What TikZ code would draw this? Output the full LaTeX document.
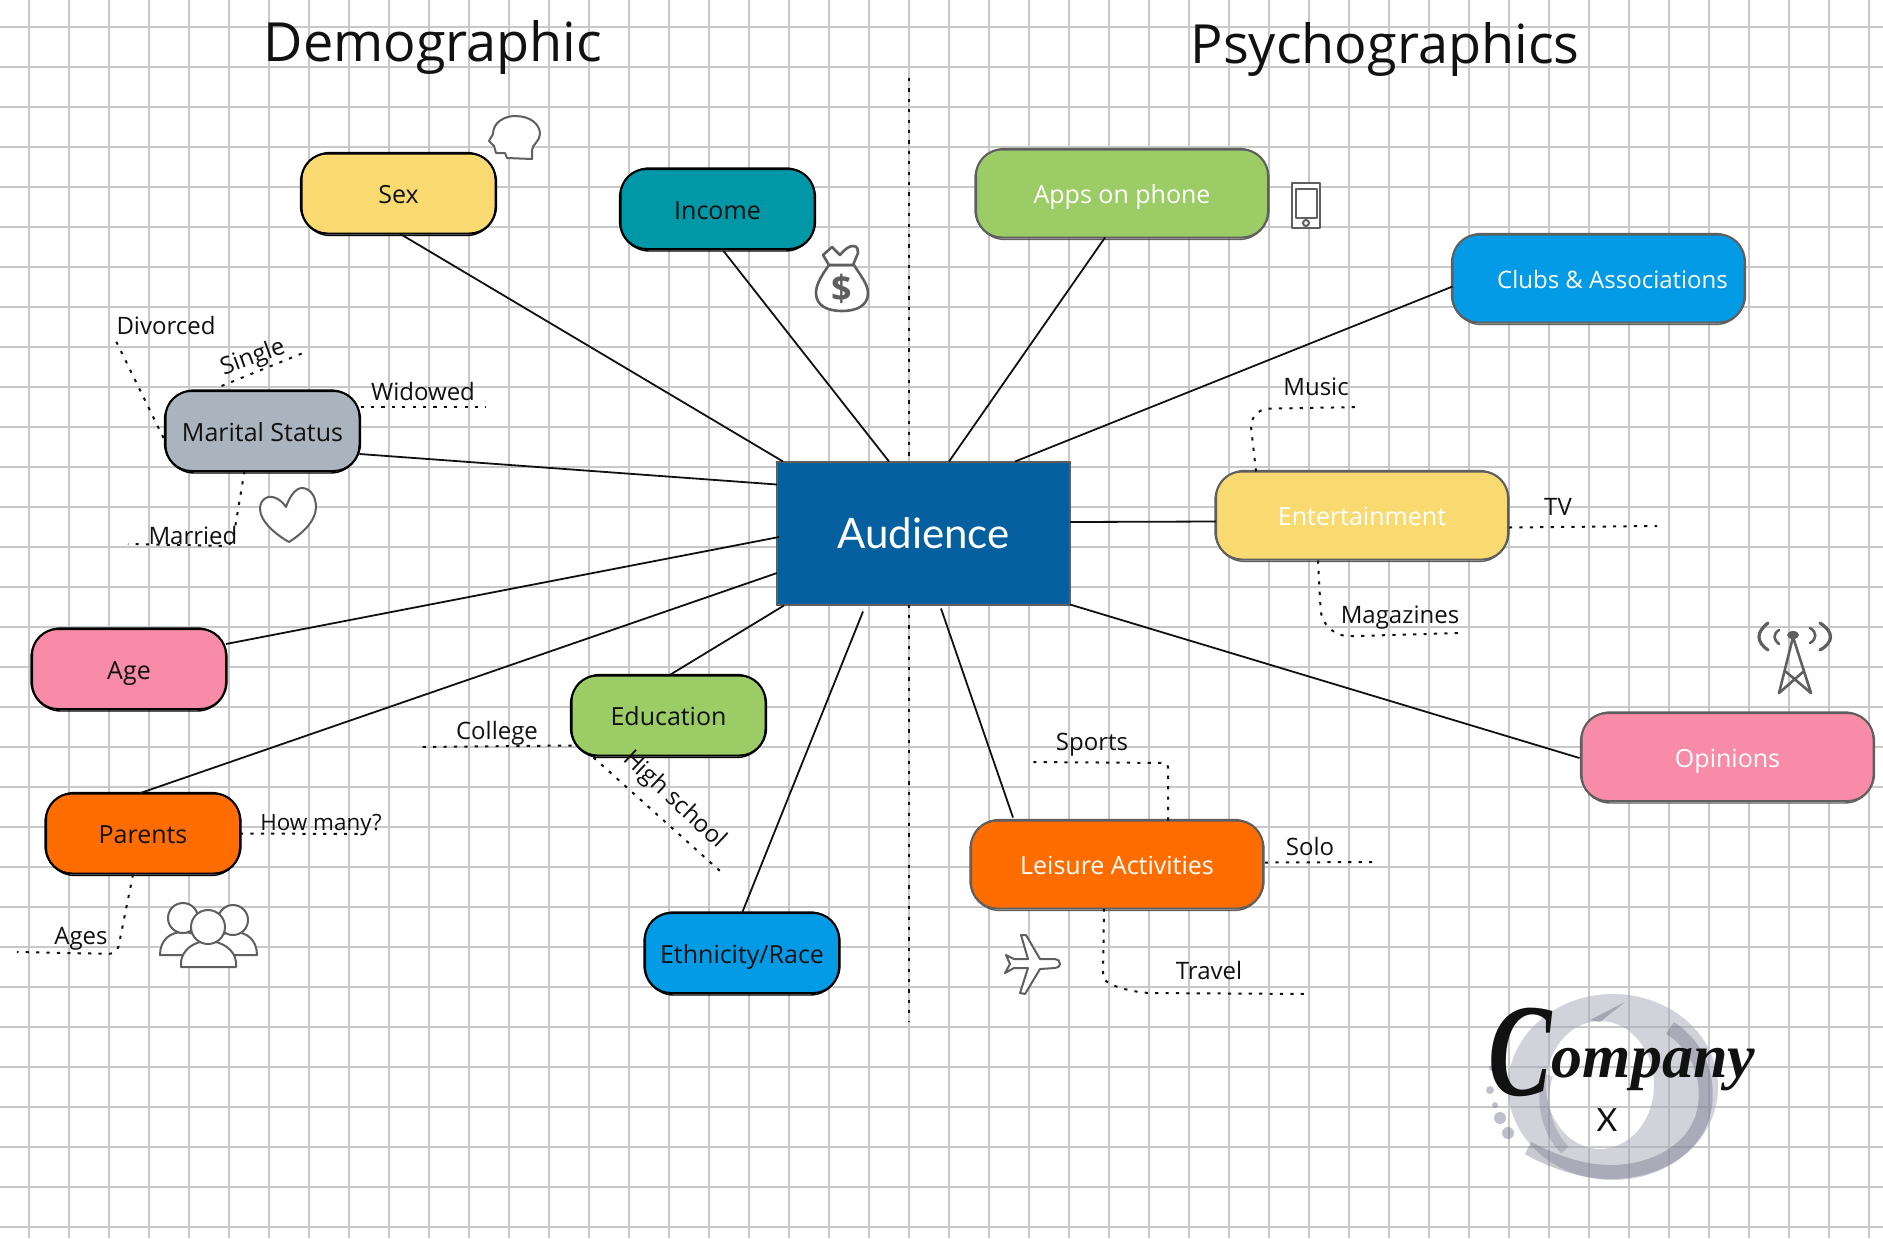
\documentclass[tikz,border=0pt]{standalone}
\usepackage{fontspec}
\usetikzlibrary{calc}
\setmainfont{Open Sans}
\newfontfamily\latofont{Lato}
\newfontfamily\logofont{Liberation Serif}
\definecolor{gridc}{HTML}{C8C8C8}
\definecolor{ink}{HTML}{111111}
\definecolor{sk}{HTML}{5F5F5F}
\definecolor{yel}{HTML}{F8DA70}
\definecolor{tealb}{HTML}{0097A7}
\definecolor{grn}{HTML}{9CCC65}
\definecolor{blu}{HTML}{039BE5}
\definecolor{gry}{HTML}{AAB4BE}
\definecolor{pnk}{HTML}{F88BA8}
\definecolor{org}{HTML}{FF6D00}
\definecolor{audc}{HTML}{06609F}
\definecolor{ringa}{HTML}{A6A6B6}
\definecolor{ringb}{HTML}{62627C}
\newcommand{\lf}[1]{\fontsize{#1}{#1}\selectfont}
% name, x, y, fill, line, text, width, height, label
\newcommand{\skbox}[9]{%
  \node[skshape,fill=#4,draw=#5,text=#6,minimum width=#7,minimum height=#8] (#1) at (#2,#3) {\raisebox{-5pt}[0pt][0pt]{#9}};
  \draw[#5,line width=.7pt,rounded corners=15pt] ($(#1.south west)+(-1,2)$) rectangle ($(#1.north east)+(1,-1)$);
}
\tikzset{
  skshape/.style={rounded corners=13pt,line width=1pt,inner sep=0pt,outer sep=0pt,font=\lf{12.5}},
  lab/.style={inner sep=0pt,outer sep=0pt,text=ink,font=\lf{12}},
  conn/.style={line width=.9pt,ink},
  dots/.style={line width=1pt,ink,dash pattern=on 1.6pt off 3.6pt},
  icon/.style={sk,line width=1pt,fill=white,line join=round,line cap=round},
  iconl/.style={sk,line width=1pt,line join=round,line cap=round},
}
\begin{document}
\begin{tikzpicture}[x=.5pt,y=-.5pt]
\useasboundingbox (0,0) rectangle (1883,1238);
\fill[white] (0,0) rectangle (1883,1238);
% grid
\foreach \gx in {29,69,...,1869} \draw[gridc,line width=1.25pt] (\gx,0) -- (\gx,1238);
\foreach \gy in {27,67,...,1227} \draw[gridc,line width=1.25pt] (0,\gy) -- (1883,\gy);

% logo ring
\fill[ringa,opacity=.5,even odd rule] (1613,1087) ellipse [x radius=105,y radius=93] (1600,1085) ellipse [x radius=54,y radius=64];
\draw[ringb,opacity=.35,line width=7pt] (1670,1028) .. controls (1705,1050) and (1710,1090) .. (1703,1115) .. controls (1693,1150) and (1655,1172) .. (1610,1172) .. controls (1580,1172) and (1550,1160) .. (1528,1148);
\draw[ringb,opacity=.25,line width=5pt] (1548,1075) .. controls (1540,1100) and (1545,1130) .. (1565,1150);
\fill[ringb,opacity=.4] (1590,1020) -- (1625,1002) -- (1600,1022) -- cycle;
\fill[ringb,opacity=.4] (1500,1118) circle (6) (1508,1133) circle (6) (1490,1090) circle (4) (1495,1105) circle (3) (1492,1068) circle (3);
\node[anchor=base west,inner sep=0pt,text=ink] (logo) at (1488,1095) {\logofont\bfseries\itshape\lf{66}\scalebox{.72}[1]{C}\raisebox{9pt}{\lf{31}ompany}};
\node[inner sep=0pt,text=ink,font=\latofont\lf{16}] (logox) at (1607,1120) {X};

% titles
\node[lab,font=\lf{27}] (t1) at (433,47) {Demographic};
\node[lab,font=\lf{27}] (t2) at (1385,49) {Psychographics};

% boxes
\node[rectangle,fill=audc,draw=sk,line width=1pt,minimum width=146.5pt,minimum height=71.5pt,inner sep=0pt,outer sep=0pt,text=white,font=\latofont\lf{21}] (aud) at (923.5,533) {Audience};
\skbox{sex}{398.5}{193.5}{yel}{black}{ink}{97pt}{40pt}{Sex}
\skbox{inc}{717.5}{209}{tealb}{black}{ink}{97pt}{40pt}{Income}
\skbox{mar}{262.5}{431}{gry}{black}{ink}{97pt}{40pt}{Marital Status}
\skbox{age}{129}{669}{pnk}{black}{ink}{97pt}{40pt}{Age}
\skbox{edu}{668.5}{715.5}{grn}{black}{ink}{97pt}{40pt}{Education}
\skbox{par}{143}{833.5}{org}{black}{ink}{97pt}{40pt}{Parents}
\skbox{eth}{742}{953}{blu}{black}{ink}{97pt}{40pt}{Ethnicity/Race}
\skbox{app}{1122}{193.5}{grn}{sk}{white}{146pt}{44pt}{Apps on phone}
\skbox{clu}{1598.5}{278.5}{blu}{sk}{white}{146pt}{44pt}{\hspace*{14pt}{\lf{12}Clubs \& Associations}}
\skbox{ent}{1362}{515.5}{yel}{sk}{white}{146pt}{44pt}{Entertainment}
\skbox{opi}{1727.5}{757}{pnk}{sk}{white}{146pt}{44pt}{Opinions}
\skbox{lei}{1117}{864.5}{org}{sk}{white}{146pt}{44pt}{Leisure Activities}

% solid connectors
\draw[conn] ($(sex.south)+(1,0)$) -- ($(aud.north west)+(6,0)$);
\draw[conn] ($(inc.south)+(6,2)$) -- ($(aud.north west)+(112,0)$);
\draw[conn] ($(app.south)+(-17,0)$) -- ($(aud.north west)+(172,0)$);
\draw[conn] ($(clu.west)+(0,8)$) -- ($(aud.north west)+(238,0)$);
\draw[conn] ($(mar.east)+(0,23)$) -- ($(aud.north west)+(0,23)$);
\draw[conn] ($(aud.east)+(0,-11)$) -- ($(ent.west)+(0,6)$);
\draw[conn] (aud.south east) -- ($(opi.west)+(-2,1)$);
\draw[conn] ($(lei.north west)+(42,-3)$) -- ($(aud.south west)+(164,4)$);
\draw[conn] (eth.north) -- ($(aud.south west)+(86,7)$);
\draw[conn] ($(edu.north)+(2,-1)$) -- ($(aud.south west)+(7,1)$);
\draw[conn] ($(age.east)+(0,-25)$) -- ($(aud.west)+(2,4)$);
\draw[conn] ($(par.north)+(-4,0)$) -- ($(aud.west)+(0,40)$);

% centre dotted line
\coordinate (vt) at (909,78);
\coordinate (vb) at (909,1021);
\draw[dots] (vt) -- (vt |- aud.north);
\draw[dots] (vt |- aud.south) -- (vb);

% free ends of dotted connectors
\coordinate (e-div) at (115,339);
\coordinate (e-sin) at (303,353);
\coordinate (e-wid) at (486,407);
\coordinate (e-mar) at (128,544);
\coordinate (e-age) at (17,952);
\coordinate (e-how) at (362,834);
\coordinate (e-col) at (418,747);
\coordinate (e-hig) at (720,871);
\coordinate (e-mus) at (1360,407);
\coordinate (e-tv) at (1657,526);
\coordinate (e-mag) at (1460,633);
\coordinate (e-spo) at (1033,762);
\coordinate (e-sol) at (1377,862);
\coordinate (e-tra) at (1307,994);

\draw[dots] ($(mar.west)+(-2,7)$) -- (e-div);
\draw[dots] ($(mar.north west)+(56,-5)$) -- (e-sin);
\draw[dots] ($(mar.north east)+(1,16)$) -- (e-wid);
\draw[dots,rounded corners=4pt] ($(mar.south)+(-18,0)$) -- (232,546) -- (e-mar);
\draw[dots,rounded corners=4pt] ($(par.south)+(-10,1)$) -- (117,954) -- (e-age);
\draw[dots] (par.east) -- (e-how);
\draw[dots] ($(edu.west)+(0,30)$) -- (e-col);
\draw[dots] ($(edu.south west)+(22,2)$) -- (e-hig);
\draw[dots,rounded corners=10pt] ($(ent.north west)+(40,0)$) -- (1249,409) -- (e-mus);
\draw[dots] ($(ent.east)+(1,12)$) -- (e-tv);
\draw[dots,rounded corners=14pt] ($(ent.south west)+(102,1)$) -- (1322,637) -- (e-mag);
\draw[dots,rounded corners=2pt] ($(lei.north west)+(197,0)$) -- (1168,763) -- (e-spo);
\draw[dots] ($(lei.east)+(2,-2)$) -- (e-sol);
\draw[dots] ($(lei.south west)+(133,0)$) -- (1103,977) .. controls (1105,985) and (1130,992) .. (1150,993) -- (e-tra);

% dotted-branch labels
\node[lab] (l-div) at (166,325) {Divorced};
\node[lab,rotate=20] (l-sin) at (253,358) {Single};
\node[lab] (l-wid) at (423,391) {Widowed};
\node[lab] (l-mar) at (193,535) {Married};
\node[lab] (l-age) at (81,939) {Ages};
\node[lab,font=\lf{11.2}] (l-how) at (321,825) {How many?};
\node[lab] (l-col) at (497,733) {College};
\node[lab,rotate=-43] (l-hig) at (674,800) {High school};
\node[lab] (l-mus) at (1316,387) {Music};
\node[lab] (l-tv) at (1558,507) {TV};
\node[lab] (l-mag) at (1400,618) {Magazines};
\node[lab] (l-spo) at (1092,745) {Sports};
\node[lab] (l-sol) at (1310,846) {Solo};
\node[lab] (l-tra) at (1209,970) {Travel};

% icon: head
\draw[icon] (532,159) -- (507,158) -- (505,153) -- (496,153) -- (494,146) -- (489,141) -- (493,134) .. controls (493,122) and (505,116) .. (515,116) .. controls (530,116) and (540,124) .. (540,134) .. controls (540,141) and (532,145) .. (532,150) -- cycle;
% icon: money bag
\draw[icon,line width=1.3pt] (829,265) .. controls (822,275) and (816,284) .. (816,293) .. controls (816,306) and (828,311) .. (842,311) .. controls (856,311) and (868,306) .. (868,293) .. controls (868,284) and (860,275) .. (854,265) -- cycle;
\draw[icon,line width=1.3pt] (829,265) -- (823,255) -- (832,247) -- (840,255) .. controls (845,249) and (849,246) .. (853,246) .. controls (858,246) and (858,250) .. (858,253) -- (853,265) -- cycle;
\node[inner sep=0pt,text=sk,font=\bfseries\lf{18}] (bagd) at (842,289) {\$};
% icon: phone
\draw[icon] (1292,183) rectangle (1320,228);
\draw[icon] (1296,189) rectangle (1317,218);
\draw[icon] (1306,223) circle (3);
% icon: heart
\draw[icon] (286,507) .. controls (280,498) and (272,496) .. (268,497) .. controls (262,499) and (260,504) .. (260,509) .. controls (260,522) and (278,536) .. (289,542) .. controls (300,535) and (316,522) .. (316,507) .. controls (316,495) and (309,488) .. (302,488) .. controls (295,488) and (289,498) .. (286,507) -- cycle;
% icon: antenna
\draw[iconl,line width=1.3pt] (1779,693) -- (1793,637) -- (1811,693);
\draw[iconl,line width=1.3pt] (1779,693) -- (1804,671) (1811,693) -- (1785,671);
\fill[sk] (1793,635) ellipse [x radius=6,y radius=4];
\draw[iconl,line width=1.6pt] (1768,623) .. controls (1756,632) and (1756,642) .. (1768,650);
\draw[iconl,line width=1.3pt] (1779,630) .. controls (1773,634) and (1773,639) .. (1779,644);
\draw[iconl,line width=1.6pt] (1820,623) .. controls (1834,632) and (1834,642) .. (1820,650);
\draw[iconl,line width=1.3pt] (1810,628) .. controls (1817,632) and (1817,639) .. (1810,643);
% icon: people
\draw[icon] (160,955) .. controls (160,940) and (170,932) .. (183,932) .. controls (196,932) and (206,940) .. (206,955) -- cycle;
\draw[icon] (183,918) circle (15);
\draw[icon] (211,955) .. controls (211,940) and (221,932) .. (234,932) .. controls (247,932) and (257,940) .. (257,955) -- cycle;
\draw[icon] (233,920) circle (15);
\draw[icon] (181,967) -- (181,962) .. controls (182,950) and (194,941) .. (208,941) .. controls (222,941) and (235,950) .. (236,962) -- (236,967) -- cycle;
\draw[icon] (208,927) circle (17);
% icon: plane
\draw[icon] (1060,964) .. controls (1060,961) and (1058,959) .. (1055,959) -- (1040,959) -- (1026,935) -- (1021,935) -- (1028,959) -- (1014,959) -- (1006,955) -- (1010,964) -- (1005,973) -- (1014,968) -- (1028,968) -- (1020,993) -- (1025,994) -- (1040,969) -- (1055,968) .. controls (1058,968) and (1060,966) .. (1060,964) -- cycle;
\end{tikzpicture}
\end{document}
